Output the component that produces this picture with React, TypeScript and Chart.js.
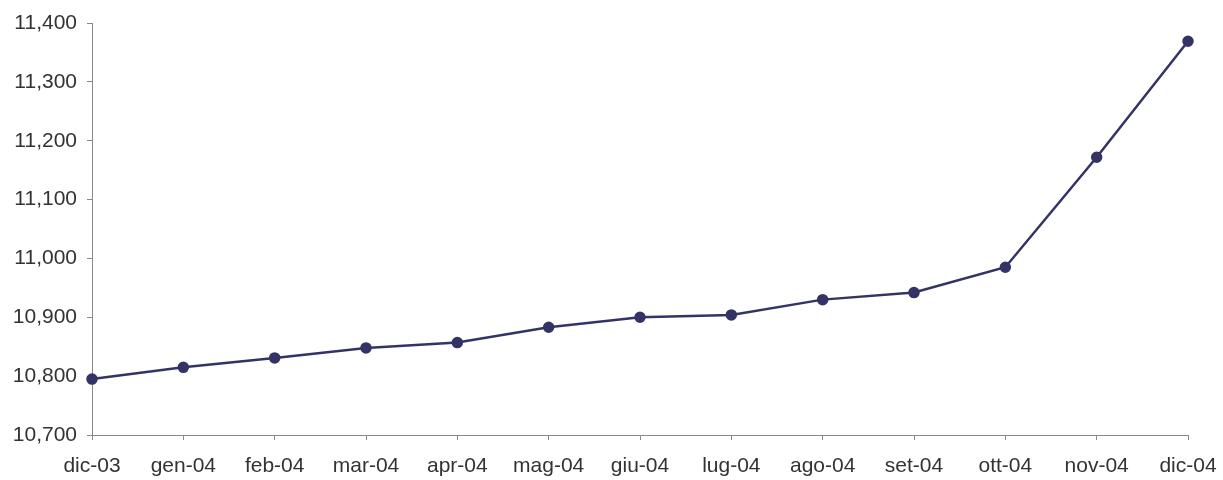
import React, { useEffect, useRef } from "react";
import { Chart, registerables } from "chart.js";

Chart.register(...registerables);

const categories = ["dic-03", "gen-04", "feb-04", "mar-04", "apr-04", "mag-04", "giu-04", "lug-04", "ago-04", "set-04", "ott-04", "nov-04", "dic-04"];
const values = [10795, 10815, 10831, 10848, 10857, 10883, 10900, 10904, 10930, 10942, 10985, 11172, 11369];
const yMin = 10700;
const yMax = 11400;
const yStep = 100;

export default function App() {
  const ref = useRef<HTMLCanvasElement | null>(null);
  useEffect(() => {
    document.body.style.margin = "0";
    if (!ref.current) return;
    const chart = new Chart(ref.current, {
      type: "line",
      data: {
        labels: categories,
        datasets: [
          {
            data: values,
            borderColor: "#333366",
            backgroundColor: "#333366",
            borderWidth: 2.5,
            pointRadius: 4.5,
            pointBackgroundColor: "#333366",
            pointBorderColor: "#333366",
            tension: 0,
          },
        ],
      },
      options: {
        animation: false,
        responsive: false,
        devicePixelRatio: 1,
        layout: { padding: { top: 23, right: 35, left: 0, bottom: 0 } },
        plugins: { legend: { display: false }, tooltip: { enabled: false } },
        scales: {
          x: {
            offset: false,
            grid: { drawOnChartArea: false, color: "#888888", tickLength: 5, lineWidth: 1 },
            border: { color: "#888888", width: 1 },
            ticks: { color: "#333333", font: { family: "Liberation Sans", size: 21 }, padding: 14, maxRotation: 0, autoSkip: false },
            afterFit: (s: any) => { s.height = 45; s.paddingLeft = 0; s.paddingRight = 0; },
          },
          y: {
            min: yMin,
            max: yMax,
            grid: { drawOnChartArea: false, color: "#888888", tickLength: 5, lineWidth: 1 },
            border: { color: "#888888", width: 1 },
            ticks: {
              stepSize: yStep,
              color: "#333333",
              font: { family: "Liberation Sans", size: 21 },
              padding: 10,
              callback: (v: any) => Number(v).toLocaleString("en-US"),
            },
            afterFit: (s: any) => { s.width = 92; s.paddingTop = 0; s.paddingBottom = 0; },
          },
        },
      },
    });
    return () => chart.destroy();
  }, []);
  return <canvas ref={ref} width={1223} height={480} style={{ display: "block" }} />;
}
